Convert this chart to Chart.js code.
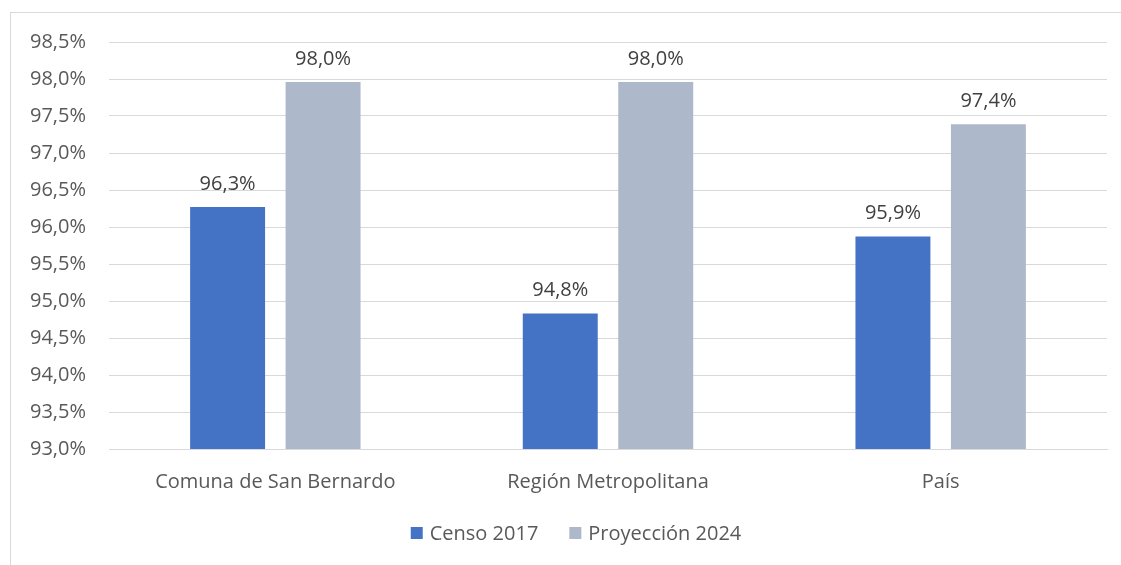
<!DOCTYPE html>
<html>
<head>
<meta charset="utf-8">
<script src="https://cdn.jsdelivr.net/npm/chart.js@4"></script>
<style>
  html, body { margin: 0; padding: 0; background: #fff; overflow: hidden; }
  #frame { position: absolute; left: 10px; top: 12px; width: 1200px; height: 700px; border: 1px solid #d9d9d9; }
  #wrap { position: absolute; left: 0; top: 0; width: 1121px; height: 565px; }
</style>
</head>
<body>
<div id="frame"></div>
<div id="wrap"><canvas id="chart" width="1121" height="565"></canvas></div>
<script>
const categories = ['Comuna de San Bernardo', 'Región Metropolitana', 'País'];
const censo2017 = [96.27, 94.83, 95.87];
const proyeccion2024 = [97.96, 97.96, 97.39];
const yMin = 93.0;
const yMax = 98.5;
const yStep = 0.5;

const fontFamily = '"Open Sans", "Noto Sans", sans-serif';

function fmt(v) {
  return v.toFixed(1).replace('.', ',') + '%';
}

// draws the value above each bar
const barLabels = {
  id: 'barLabels',
  afterDatasetsDraw(chart) {
    const ctx = chart.ctx;
    ctx.save();
    ctx.font = '20px ' + fontFamily;
    ctx.fillStyle = '#404040';
    ctx.textAlign = 'center';
    ctx.textBaseline = 'bottom';
    chart.data.datasets.forEach((ds, i) => {
      chart.getDatasetMeta(i).data.forEach((bar, j) => {
        ctx.fillText(fmt(ds.data[j]), bar.x, bar.y - 13);
      });
    });
    ctx.restore();
  }
};

// legend like the excel one: small squares, wide gap, a bit right of centre
const bottomLegend = {
  id: 'bottomLegend',
  afterDraw(chart) {
    const ctx = chart.ctx;
    const box = 12, gap = 7, between = 31;
    const cx = 576, cy = 533;
    ctx.save();
    ctx.font = '20px ' + fontFamily;
    ctx.textBaseline = 'middle';
    const items = chart.data.datasets.map(ds => ({
      text: ds.label, color: ds.backgroundColor, w: ctx.measureText(ds.label).width
    }));
    let total = items.reduce((s, it) => s + box + gap + it.w, 0) + between * (items.length - 1);
    let x = cx - total / 2;
    items.forEach(it => {
      ctx.fillStyle = it.color;
      ctx.fillRect(x, cy - box / 2, box, box);
      ctx.fillStyle = '#595959';
      ctx.fillText(it.text, x + box + gap, cy + 1);
      x += box + gap + it.w + between;
    });
    ctx.restore();
  }
};

new Chart(document.getElementById('chart'), {
  type: 'bar',
  data: {
    labels: categories,
    datasets: [
      { label: 'Censo 2017', data: censo2017, backgroundColor: '#4472C4' },
      { label: 'Proyección 2024', data: proyeccion2024, backgroundColor: '#ADB9CA' }
    ]
  },
  options: {
    responsive: false,
    animation: false,
    categoryPercentage: 0.574,
    barPercentage: 0.785,
    layout: { padding: { left: 10, right: 14, top: 42, bottom: 55 } },
    scales: {
      y: {
        min: yMin,
        max: yMax,
        afterFit(scale) { scale.width = 99; },
        ticks: {
          stepSize: yStep,
          padding: 23,
          color: '#595959',
          font: { family: fontFamily, size: 20 },
          callback: (v) => fmt(v)
        },
        grid: { color: '#d9d9d9', lineWidth: 1, drawTicks: false },
        border: { display: false }
      },
      x: {
        afterFit(scale) { scale.height = 61; },
        ticks: {
          padding: 21,
          color: '#595959',
          font: { family: fontFamily, size: 20 }
        },
        grid: { display: false, drawTicks: false },
        border: { color: '#d9d9d9' }
      }
    },
    plugins: {
      legend: { display: false },
      tooltip: { enabled: false }
    }
  },
  plugins: [barLabels, bottomLegend]
});
</script>
</body>
</html>
